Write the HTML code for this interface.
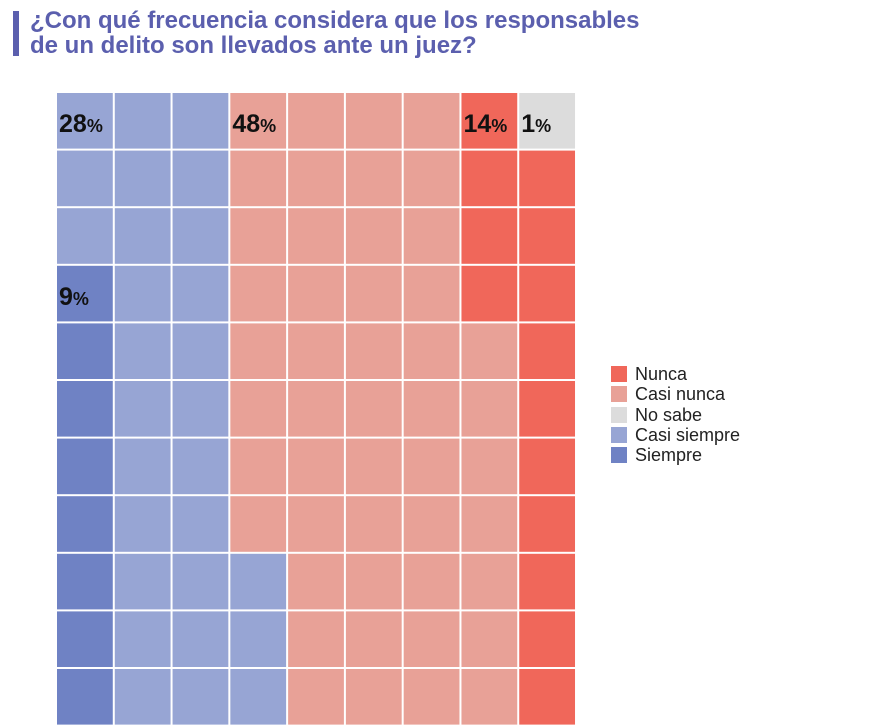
<!DOCTYPE html>
<html><head><meta charset="utf-8"><style>
body{margin:0;width:872px;height:727px;background:#fff;overflow:hidden;font-family:"Liberation Sans",sans-serif;position:relative}
.bar{position:absolute;left:13px;top:11px;width:6px;height:45px;background:#5b5fae}
.title{position:absolute;left:30px;top:8px;font-size:24px;font-weight:bold;color:#5b5fae;line-height:25px}
.leg{position:absolute;left:611px;font-size:18px;color:#222;line-height:20px}
.leg span{display:inline-block;width:16px;height:16px;vertical-align:-2px;margin-right:8px}
</style></head><body>
<div class="bar"></div>
<div class="title">¿Con qué frecuencia considera que los responsables<br>de un delito son llevados ante un juez?</div>
<svg id="chart" width="872" height="727" style="position:absolute;left:0;top:0"></svg>
<div id="legend"></div>
<script>
const categories=["No sabe","Nunca","Casi nunca","Casi siempre","Siempre"];
const values=[1,14,48,28,9];
const colors=["#dcdcdc","#f0675a","#e8a197","#97a5d4","#6f82c4"];
const legendOrder=["Nunca","Casi nunca","No sabe","Casi siempre","Siempre"];
const COLS=9,ROWS=11,x0=57,y0=93,px=57.78,py=57.6,gap=2;
const svg=document.getElementById('chart');const NS="http://www.w3.org/2000/svg";
const grid=[];let ci=0,left=values[0];
for(let c=COLS-1;c>=0;c--){for(let r=0;r<ROWS;r++){while(left<=0&&ci<values.length-1){ci++;left=values[ci];}
if(left>0){grid.push({c,r,k:ci});left--;}}}
grid.forEach(g=>{const e=document.createElementNS(NS,'rect');
e.setAttribute('x',x0+g.c*px);e.setAttribute('y',y0+g.r*py);e.setAttribute('width',px-gap);e.setAttribute('height',py-gap);e.setAttribute('fill',colors[g.k]);

svg.appendChild(e);});
categories.forEach((cat,k)=>{const cells=grid.filter(g=>g.k===k);if(!cells.length)return;
cells.sort((a,b)=>a.c-b.c||a.r-b.r);const g=cells[0];
const t=document.createElementNS(NS,'text');t.setAttribute('x',x0+g.c*px+2);t.setAttribute('y',y0+g.r*py+39);
t.setAttribute('font-size','25');t.setAttribute('font-weight','bold');t.setAttribute('fill','#111');t.setAttribute('font-family','Liberation Sans, sans-serif');
t.innerHTML=values[k]+'<tspan font-size="18">%</tspan>';

svg.appendChild(t);});
const lg=document.getElementById('legend');
legendOrder.forEach((n,i)=>{const d=document.createElement('div');d.className='leg';d.style.top=(364+i*20.3)+'px';
d.innerHTML='<span style="background:'+colors[categories.indexOf(n)]+'"></span>'+n;

lg.appendChild(d);});
</script>
</body></html>
